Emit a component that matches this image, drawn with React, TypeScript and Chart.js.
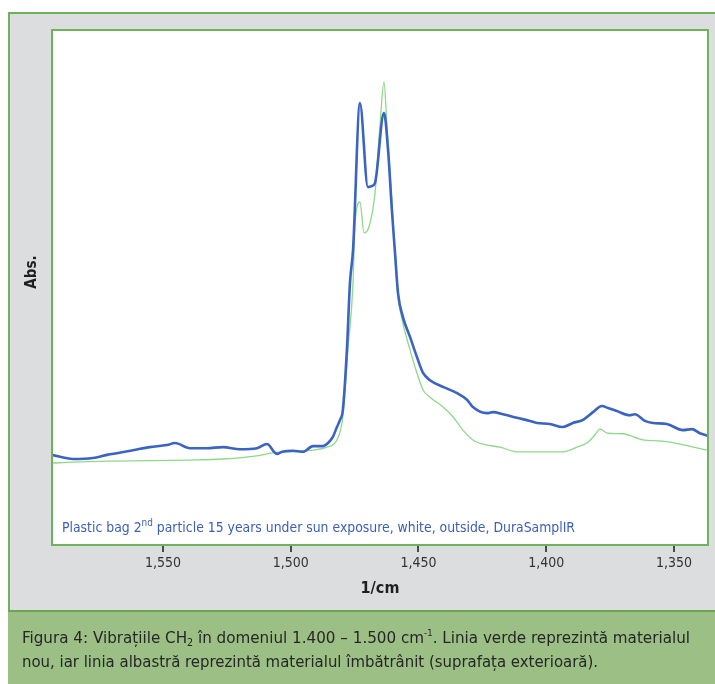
import { useEffect, useRef } from 'react';
import { Chart, registerables } from 'chart.js';

Chart.register(...registerables);

// Aged material (outer surface) – wavenumber (1/cm) and absorbance
const agedWavenumber = [
  1593.4, 1585.2, 1577.4, 1571.9, 1561.7, 1555.1, 1548.4, 1545.3, 1539.4, 1532.8,
  1526.5, 1519.8, 1513.2, 1509.3, 1505.4, 1503.4, 1499.1, 1495.2, 1491.3, 1487.4,
  1485.4, 1483.5, 1481.9, 1480.7, 1479.6, 1478.0, 1476.8, 1475.6, 1472.9, 1469.8,
  1468.2, 1467.0, 1463.5, 1461.9, 1460.4, 1459.2, 1458.0, 1456.1, 1453.3, 1450.6,
  1448.2, 1445.5, 1440.4, 1434.9, 1431.0, 1428.7, 1423.2, 1420.9, 1416.9, 1411.5,
  1406.4, 1403.6, 1398.6, 1393.5, 1389.6, 1385.6, 1381.7, 1378.2, 1375.9, 1372.4,
  1367.3, 1365.3, 1361.4, 1358.3, 1352.8, 1346.5, 1343.0, 1339.9, 1336.7,
];
const agedAbs = [
  0.175, 0.167, 0.169, 0.175, 0.184, 0.190, 0.194, 0.198, 0.188, 0.188,
  0.190, 0.186, 0.188, 0.196, 0.177, 0.181, 0.183, 0.181, 0.192, 0.192,
  0.198, 0.210, 0.229, 0.243, 0.262, 0.379, 0.509, 0.573, 0.858, 0.695,
  0.697, 0.703, 0.839, 0.767, 0.650, 0.569, 0.489, 0.443, 0.404, 0.365,
  0.334, 0.320, 0.307, 0.295, 0.282, 0.268, 0.256, 0.258, 0.254, 0.247,
  0.241, 0.237, 0.235, 0.229, 0.237, 0.243, 0.258, 0.270, 0.266, 0.260,
  0.252, 0.254, 0.241, 0.237, 0.235, 0.223, 0.225, 0.217, 0.212,
];

// New material – wavenumber (1/cm) and absorbance
const newWavenumber = [
  1593.4, 1585.2, 1567.4, 1539.4, 1526.5, 1513.2, 1506.9, 1493.6, 1485.8, 1481.9,
  1479.6, 1477.6, 1475.6, 1474.9, 1472.9, 1471.3, 1469.4, 1467.0, 1465.1, 1463.5,
  1462.3, 1460.4, 1459.2, 1458.0, 1456.1, 1453.3, 1450.6, 1448.2, 1445.5, 1440.4,
  1436.5, 1432.6, 1428.7, 1423.2, 1418.1, 1411.5, 1406.4, 1393.5, 1388.0, 1384.1,
  1380.9, 1379.0, 1375.9, 1370.0, 1362.2, 1355.5, 1347.7, 1337.1,
];
const newAbs = [
  0.159, 0.161, 0.163, 0.165, 0.167, 0.173, 0.179, 0.183, 0.190, 0.204,
  0.249, 0.379, 0.509, 0.617, 0.666, 0.606, 0.617, 0.683, 0.812, 0.899,
  0.812, 0.670, 0.563, 0.482, 0.431, 0.379, 0.334, 0.301, 0.287, 0.268,
  0.249, 0.223, 0.204, 0.194, 0.190, 0.181, 0.181, 0.181, 0.190, 0.198,
  0.214, 0.225, 0.217, 0.216, 0.204, 0.202, 0.196, 0.184,
];

const xTicks = [1550, 1500, 1450, 1400, 1350];
const xMin = 1336.7;
const xMax = 1593.4;
const xTitle = '1/cm';
const yTitle = 'Abs.';

const NARROW = "'DejaVu Sans Condensed', 'Liberation Sans Narrow', 'Open Sans', sans-serif";

type Seg = { text: string; size: number; dy?: number; bold?: boolean };

const sampleLabel: Seg[] = [
  { text: 'Plastic bag 2', size: 14 },
  { text: 'nd', size: 10, dy: -6 },
  { text: ' particle 15 years under sun exposure, white, outside, DuraSamplIR', size: 14 },
];

const captionLine1: Seg[] = [
  { text: 'Figura 4: Vibrațiile CH', size: 16 },
  { text: '2', size: 10, dy: 3 },
  { text: ' în domeniul 1.400 – 1.500 cm', size: 16 },
  { text: '-1', size: 9, dy: -7 },
  { text: '. Linia verde reprezintă materialul', size: 16 },
];
const captionLine2: Seg[] = [
  { text: 'nou, iar linia albastră reprezintă materialul îmbătrânit (suprafața exterioară).', size: 16 },
];

function drawSegs(
  ctx: CanvasRenderingContext2D,
  segs: Seg[],
  x: number,
  y: number,
  color: string,
  width?: number,
) {
  const fontOf = (s: Seg) => `${s.bold ? 'bold ' : ''}${s.size}px ${NARROW}`;
  let total = 0;
  for (const s of segs) {
    ctx.font = fontOf(s);
    total += ctx.measureText(s.text).width;
  }
  const sx = width ? width / total : 1;
  ctx.save();
  ctx.translate(x, y);
  ctx.scale(sx, 1);
  ctx.fillStyle = color;
  ctx.textBaseline = 'alphabetic';
  ctx.textAlign = 'left';
  let cx = 0;
  for (const s of segs) {
    ctx.font = fontOf(s);
    ctx.fillText(s.text, cx, s.dy || 0);
    cx += ctx.measureText(s.text).width;
  }
  ctx.restore();
}

const framePlugin = {
  id: 'frame',
  beforeDraw(chart: Chart) {
    const { ctx, width, height } = chart;
    ctx.save();
    // page background
    ctx.fillStyle = '#ffffff';
    ctx.fillRect(0, 0, width, height);
    // grey panel
    ctx.fillStyle = '#dcdddf';
    ctx.fillRect(8, 12, width - 8, 599);
    ctx.strokeStyle = '#6cb35a';
    ctx.lineWidth = 2;
    ctx.beginPath();
    ctx.moveTo(9, 611);
    ctx.lineTo(9, 13);
    ctx.lineTo(width, 13);
    ctx.stroke();
    // caption band
    ctx.fillStyle = '#9cbf85';
    ctx.fillRect(8, 611, width - 8, height - 611);
    ctx.fillStyle = '#6aa553';
    ctx.fillRect(8, 610, width - 8, 2);
    // plot area
    const a = chart.chartArea;
    ctx.fillStyle = '#ffffff';
    ctx.fillRect(a.left, a.top, a.right - a.left, a.bottom - a.top);
    ctx.restore();
  },
  afterDraw(chart: Chart) {
    const { ctx } = chart;
    const a = chart.chartArea;
    ctx.save();
    ctx.strokeStyle = '#6cb35a';
    ctx.lineWidth = 2;
    ctx.strokeRect(a.left, a.top, a.right - a.left, a.bottom - a.top);

    // axis titles
    ctx.fillStyle = '#1f1f1f';
    ctx.font = `bold 16px ${NARROW}`;
    ctx.textAlign = 'center';
    ctx.textBaseline = 'middle';
    ctx.fillText(xTitle, (a.left + a.right) / 2, 589);
    ctx.save();
    ctx.translate(32, 272);
    ctx.rotate(-Math.PI / 2);
    ctx.font = `bold 15px ${NARROW}`;
    ctx.fillText(yTitle, 0, 0);
    ctx.restore();

    // sample label inside the plot
    drawSegs(ctx, sampleLabel, 62, 532, '#3b5fb8', 513);

    // figure caption
    drawSegs(ctx, captionLine1, 22, 643, '#262626', 668);
    drawSegs(ctx, captionLine2, 22, 667, '#262626', 576);
    ctx.restore();
  },
};

export default function App() {
  const ref = useRef<HTMLCanvasElement | null>(null);

  useEffect(() => {
    document.body.style.margin = '0';
    const canvas = ref.current;
    if (!canvas) return;
    const chart = new Chart(canvas, {
      type: 'line',
      data: {
        datasets: [
          {
            label: 'aged',
            data: agedWavenumber.map((x, i) => ({ x, y: agedAbs[i] })),
            borderColor: '#3b63c3',
            borderWidth: 2.6,
            pointRadius: 0,
            cubicInterpolationMode: 'monotone',
          },
          {
            label: 'new',
            data: newWavenumber.map((x, i) => ({ x, y: newAbs[i] })),
            borderColor: '#8ed889',
            borderWidth: 1.3,
            pointRadius: 0,
            cubicInterpolationMode: 'monotone',
          },
        ],
      },
      options: {
        responsive: false,
        animation: false,
        devicePixelRatio: 1,
        layout: { padding: { left: 52, top: 30, right: 7, bottom: 73 } },
        plugins: { legend: { display: false }, tooltip: { enabled: false } },
        scales: {
          x: {
            type: 'linear',
            reverse: true,
            min: xMin,
            max: xMax,
            afterBuildTicks: (scale: any) => {
              scale.ticks = xTicks.map((v) => ({ value: v }));
            },
            afterFit: (scale: any) => {
              scale.height = 66;
            },
            border: { display: false },
            grid: {
              drawOnChartArea: false,
              drawTicks: true,
              tickLength: 7,
              tickColor: '#4a4a4a',
              lineWidth: 2,
            },
            ticks: {
              padding: 3,
              color: '#333333',
              font: { family: NARROW, size: 14 },
              maxRotation: 0,
              callback: (v: any) => Number(v).toLocaleString('en-US'),
            },
          },
          y: { display: false, min: 0, max: 1 },
        },
      },
      plugins: [framePlugin],
    });
    return () => chart.destroy();
  }, []);

  return <canvas ref={ref} width={715} height={684} style={{ display: 'block' }} />;
}
